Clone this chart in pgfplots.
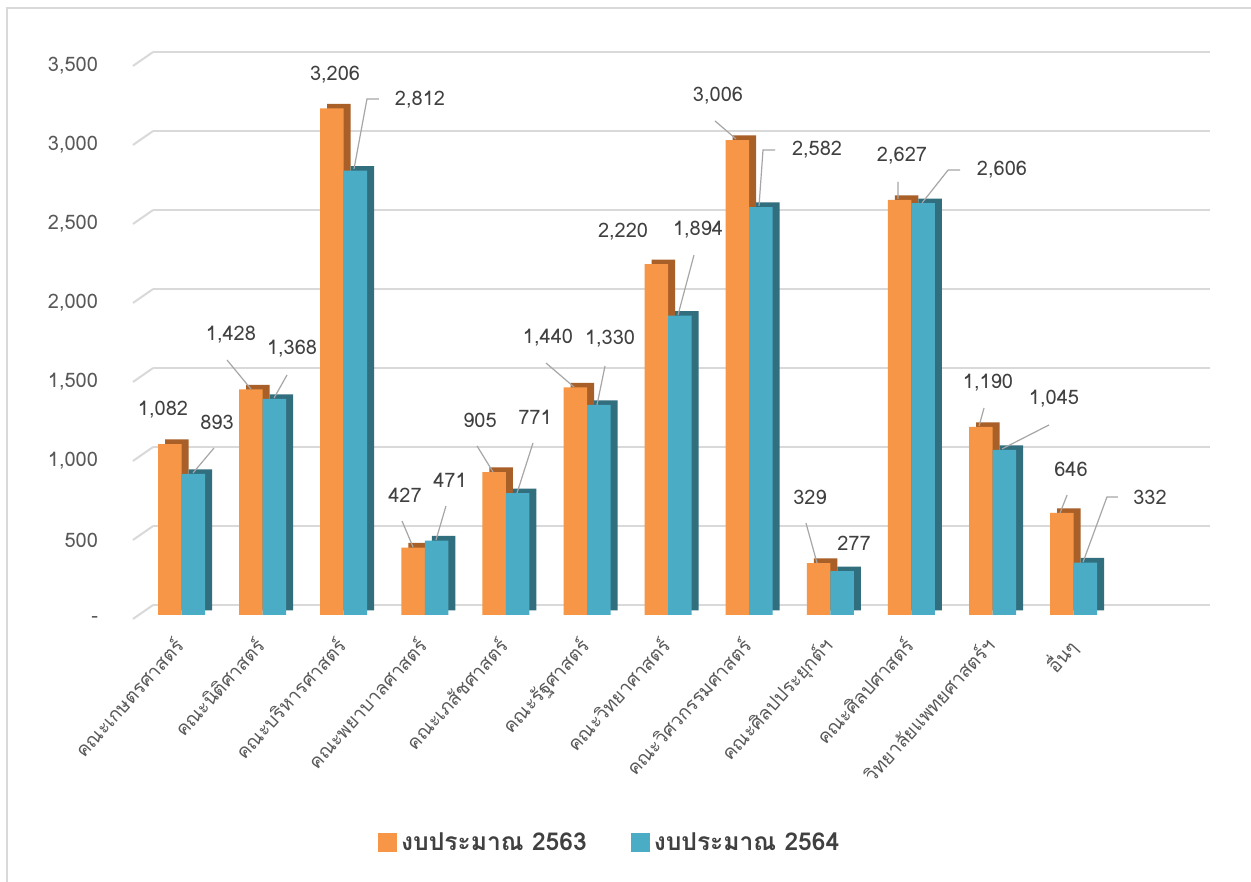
\documentclass[border=0pt]{standalone}
\usepackage{pgfplots}
\pgfplotsset{compat=1.18}
\usepackage{fontspec}
\setmainfont{Loma}[Script=Thai]
\definecolor{orF}{HTML}{F79646}
\definecolor{orD}{HTML}{A85F28}
\definecolor{blF}{HTML}{4BACC6}
\definecolor{blD}{HTML}{316F7E}
\definecolor{gridc}{HTML}{D9D9D9}
\definecolor{txt}{HTML}{404040}
\definecolor{tick}{HTML}{595959}

\pgfplotstableread{
x a b
0 1082 893
1 1428 1368
2 3206 2812
3 427 471
4 905 771
5 1440 1330
6 2220 1894
7 3006 2582
8 329 277
9 2627 2606
10 1190 1045
11 646 332
}\budget

\pgfplotstableread{
x y v
-0.228 1297 1082
0.610 1772 1428
1.893 3418 3206
2.756 759 427
3.681 1234 905
4.519 1753 1440
5.444 2424 2220
6.615 3285 3006
7.750 747 329
8.884 2905 2627
9.944 1468 1190
10.968 924 646
0.438 1222 893
1.363 1684 1368
2.941 3259 2812
3.311 854 471
4.359 1253 771
5.284 1747 1330
6.369 2437 1894
7.836 2943 2582
8.292 456 277
10.117 2816 2606
10.758 1367 1045
11.942 747 332
}\labels

\pgfplotstableread{
x y
0.561 1614
0.857 1430
nan nan
1.301 1519
1.141 1373
nan nan
2.435 3266
2.287 3266
2.127 2823
nan nan
2.719 595
2.855 430
nan nan
3.261 690
3.138 475
nan nan
3.644 1070
3.841 905
nan nan
4.334 1089
4.137 772
nan nan
4.494 1595
4.840 1443
nan nan
5.222 1576
5.123 1329
nan nan
6.319 2278
6.122 1899
nan nan
6.578 3127
6.837 3013
nan nan
7.318 2943
7.170 2943
7.121 2589
nan nan
7.700 582
7.836 329
nan nan
8.835 2741
8.835 2633
nan nan
9.600 2816
9.452 2816
9.131 2608
nan nan
9.895 1310
9.834 1196
nan nan
10.697 1203
10.117 1051
nan nan
10.919 759
10.833 646
nan nan
11.547 747
11.411 747
11.116 335
nan nan
0.401 1057
0.142 899
}\leaders

\pgfplotstableread{
x y
-0.598 -25
-0.351 63
nan nan
-0.598 475
-0.351 563
nan nan
-0.598 975
-0.351 1063
nan nan
-0.598 1475
-0.351 1563
nan nan
-0.598 1975
-0.351 2063
nan nan
-0.598 2475
-0.351 2563
nan nan
-0.598 2975
-0.351 3063
nan nan
-0.598 3475
-0.351 3563
}\slants

\begin{document}
\begin{tikzpicture}
\useasboundingbox (0,0) rectangle (625.5pt,441pt);
\fill[white] (0,0) rectangle (625.5pt,441pt);
\draw[gridc, line width=1pt] (3.5pt,0) -- (3.5pt,437pt) -- (625.5pt,437pt);
\begin{axis}[
  at={(66.5pt,133.5pt)}, anchor=south west,
  scale only axis, width=528.5pt, height=276.5pt,
  xmin=-0.598, xmax=12.435, ymin=0, ymax=3500,
  clip=false,
  axis line style={draw=none},
  major tick length=0pt,
  ytick={0,500,1000,1500,2000,2500,3000,3500},
  yticklabels={{-\hspace{7pt}},{500},{1,000},{1,500},{2,000},{2,500},{3,000},{3,500}},
  yticklabel style={font=\fontsize{10pt}{12pt}\selectfont, text=tick, xshift=-14pt, yshift=-2pt},
  xtick={0,...,11},
  xticklabels={คณะเกษตรศาสตร์,คณะนิติศาสตร์,คณะบริหารศาสตร์,คณะพยาบาลศาสตร์,คณะเภสัชศาสตร์,คณะรัฐศาสตร์,คณะวิทยาศาสตร์,คณะวิศวกรรมศาสตร์,คณะศิลปประยุกต์ฯ,คณะศิลปศาสตร์,วิทยาลัยแพทยศาสตร์ฯ,อื่นๆ},
  xticklabel style={font=\fontsize{9.5pt}{11pt}\selectfont, text=tick, xshift=-4.5pt, yshift=-10pt, rotate=48, anchor=north east, inner sep=0pt},
  ymajorgrids,
  y grid style={gridc, line width=1pt, xshift=10pt, yshift=5pt},
  legend style={at={(0.452,-0.412)}, anchor=center, draw=none, fill=none,
    legend columns=2, font=\bfseries\fontsize{12.3pt}{15pt}\selectfont, text=txt,
    /tikz/every even column/.append style={column sep=20pt}},
  legend cell align=left,
  /pgf/number format/assume math mode=true,
]
\addplot[sharp plot, gridc, line width=1pt, unbounded coords=jump, forget plot] table {\slants};
\addplot[ybar, bar width=11.75pt, bar shift=-2.375pt, fill=orD, draw=none, yshift=2.3pt, forget plot] table[x=x,y=a] {\budget};
\addplot[ybar, bar width=11.75pt, bar shift=9.375pt, fill=blD, draw=none, yshift=2.3pt, forget plot] table[x=x,y=b] {\budget};
\addplot[ybar, bar width=11.75pt, bar shift=-5.875pt, fill=orF, draw=none,
  legend image code/.code={\fill[orF] (0pt,-4.75pt) rectangle (9.5pt,4.75pt);}] table[x=x,y=a] {\budget};
\addlegendentry{งบประมาณ 2563}
\addplot[ybar, bar width=11.75pt, bar shift=5.875pt, fill=blF, draw=none,
  legend image code/.code={\fill[blF] (0pt,-4.75pt) rectangle (9.5pt,4.75pt);}] table[x=x,y=b] {\budget};
\addlegendentry{งบประมาณ 2564}
\addplot[sharp plot, color=gray!70, line width=0.6pt, unbounded coords=jump, forget plot] table {\leaders};
\addplot[draw=none, mark=none, forget plot, point meta=explicit,
  nodes near coords={\pgfmathprintnumber[1000 sep={,}]{\pgfplotspointmeta}},
  every node near coord/.append style={anchor=center, inner sep=0pt, font=\fontsize{10pt}{12pt}\selectfont, text=txt}]
  table[x=x,y=y,meta=v] {\labels};
\end{axis}
\end{tikzpicture}
\end{document}
